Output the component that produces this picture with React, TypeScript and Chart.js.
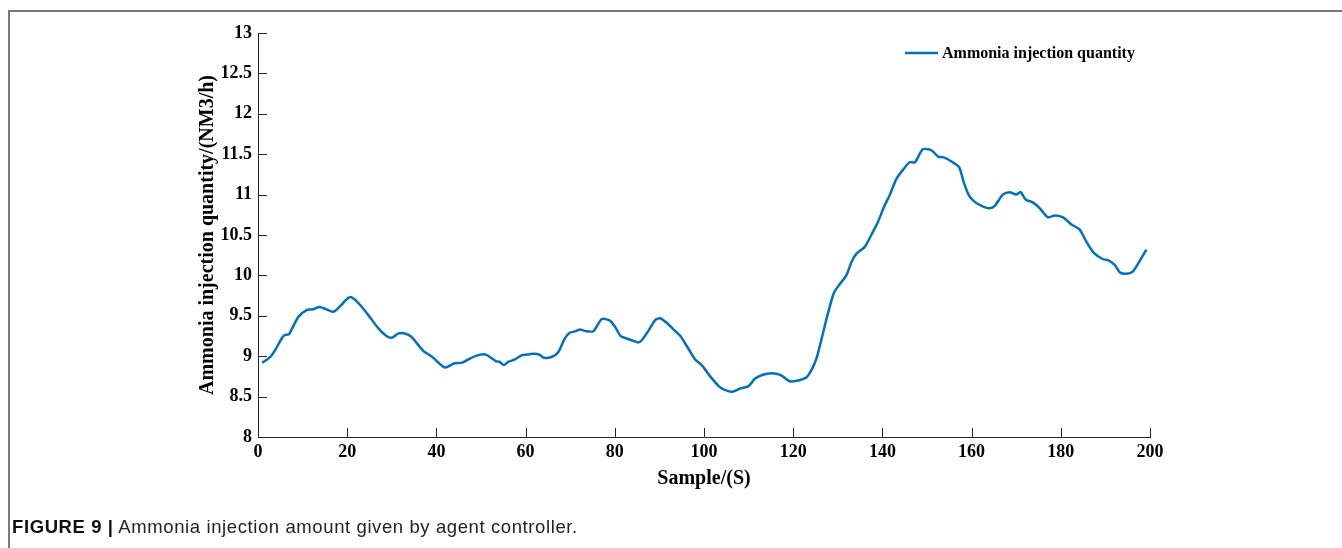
import { useEffect, useRef } from "react";
import { Chart, registerables } from "chart.js";

Chart.register(...registerables);

const seriesLabel = "Ammonia injection quantity";
const xTitle = "Sample/(S)";
const yTitle = "Ammonia injection quantity/(NM3/h)";
const captionBold = "FIGURE 9 |";
const captionText = " Ammonia injection amount given by agent controller.";

const samples = [
  0.9, 1.8, 2.9, 4.0, 5.2, 5.9, 6.9, 7.8, 9.1, 10.9, 12.3, 13.8, 15.3, 16.9, 18.6, 20.0, 20.9, 22.8, 25.0, 26.9,
  28.8, 30.1, 31.4, 32.9, 34.4, 37.0, 39.1, 41.9, 43.9, 45.8, 47.5, 49.2, 51.1, 53.3, 54.2, 55.1, 56.1, 57.6, 59.1, 60.2,
  61.7, 63.1, 64.1, 65.8, 67.3, 68.8, 69.9, 71.3, 72.2, 73.5, 75.2, 77.1, 78.9, 80.1, 81.3, 83.1, 84.2, 85.2, 86.1, 87.6,
  89.1, 90.2, 91.7, 93.2, 94.7, 96.2, 98.0, 99.5, 101.4, 103.3, 104.4, 106.3, 108.1, 110.0, 111.4, 113.2, 115.1, 117.1, 119.2, 121.1,
  123.0, 124.1, 125.2, 126.3, 127.6, 129.1, 130.4, 131.9, 133.1, 134.2, 136.0, 137.5, 139.0, 140.3, 141.6, 143.2, 144.8, 146.1, 147.3, 149.0,
  150.3, 151.2, 152.5, 153.7, 155.5, 157.2, 158.2, 159.4, 160.7, 162.6, 164.0, 165.2, 167.0, 168.5, 170.0, 171.0, 172.1, 173.8, 175.3, 177.1,
  178.6, 180.4, 182.4, 184.2, 185.7, 187.4, 189.5, 190.6, 192.1, 193.2, 194.7, 196.2, 197.6, 199.2,
];

const ammoniaQuantity = [
  8.92, 8.95, 9.0, 9.09, 9.21, 9.26, 9.27, 9.36, 9.49, 9.57, 9.58, 9.61, 9.58, 9.55, 9.63, 9.71, 9.73, 9.64, 9.49, 9.35,
  9.25, 9.23, 9.28, 9.28, 9.24, 9.07, 8.99, 8.86, 8.91, 8.92, 8.97, 9.01, 9.02, 8.94, 8.93, 8.89, 8.93, 8.96, 9.01, 9.02,
  9.03, 9.02, 8.98, 8.99, 9.05, 9.22, 9.29, 9.31, 9.33, 9.31, 9.31, 9.46, 9.44, 9.36, 9.25, 9.21, 9.19, 9.17, 9.2, 9.32,
  9.45, 9.47, 9.41, 9.33, 9.25, 9.12, 8.96, 8.89, 8.75, 8.63, 8.59, 8.56, 8.6, 8.63, 8.72, 8.77, 8.79, 8.77, 8.69, 8.7,
  8.74, 8.83, 8.97, 9.2, 9.49, 9.78, 9.89, 10.0, 10.17, 10.27, 10.35, 10.5, 10.66, 10.84, 10.99, 11.2, 11.32, 11.4, 11.4, 11.56,
  11.56, 11.54, 11.47, 11.46, 11.41, 11.34, 11.16, 10.99, 10.91, 10.85, 10.83, 10.86, 11.0, 11.03, 11.0, 11.03, 10.94, 10.9, 10.83, 10.72,
  10.74, 10.72, 10.63, 10.57, 10.42, 10.28, 10.2, 10.19, 10.13, 10.04, 10.02, 10.05, 10.17, 10.32,
];

const xMin = 0;
const xMax = 200;
const xStep = 20;
const yMin = 8;
const yMax = 13;
const yStep = 0.5;

const LINE_COLOR = "#0072BD";
const AXIS_COLOR = "#262626";
const SERIF = "'Liberation Serif', 'Times New Roman', serif";

const inwardTicks = {
  id: "inwardTicks",
  afterDatasetsDraw(chart: any) {
    const { ctx, chartArea, scales } = chart;
    const len = 9;
    ctx.save();
    ctx.strokeStyle = AXIS_COLOR;
    ctx.lineWidth = 1;
    ctx.beginPath();
    scales.y.ticks.forEach((t: any) => {
      const y = Math.round(scales.y.getPixelForValue(t.value)) + 0.5;
      ctx.moveTo(chartArea.left, y);
      ctx.lineTo(chartArea.left + len, y);
    });
    scales.x.ticks.forEach((t: any) => {
      const x = Math.round(scales.x.getPixelForValue(t.value)) + 0.5;
      ctx.moveTo(x, chartArea.bottom);
      ctx.lineTo(x, chartArea.bottom - len);
    });
    ctx.stroke();
    ctx.restore();
  },
};

const lineLegend = {
  id: "lineLegend",
  afterDraw(chart: any) {
    const { ctx } = chart;
    const ds = chart.data.datasets[0];
    const y = 53;
    ctx.save();
    ctx.strokeStyle = ds.borderColor;
    ctx.lineWidth = 2.5;
    ctx.beginPath();
    ctx.moveTo(905, y);
    ctx.lineTo(938, y);
    ctx.stroke();
    ctx.fillStyle = "#000";
    ctx.font = `bold 16px ${SERIF}`;
    ctx.textBaseline = "middle";
    ctx.textAlign = "left";
    ctx.fillText(ds.label, 942, y + 1);
    ctx.restore();
  },
};

export default function App() {
  const canvasRef = useRef<HTMLCanvasElement | null>(null);

  useEffect(() => {
    if (!canvasRef.current) return;
    const points = samples.map((s, i) => ({ x: s, y: ammoniaQuantity[i] }));
    const chart = new Chart(canvasRef.current, {
      type: "line",
      data: {
        datasets: [
          {
            label: seriesLabel,
            data: points,
            borderColor: LINE_COLOR,
            backgroundColor: LINE_COLOR,
            borderWidth: 2.5,
            pointRadius: 0,
            tension: 0.25,
            fill: false,
          },
        ],
      },
      options: {
        animation: false,
        responsive: false,
        maintainAspectRatio: false,
        layout: { padding: { left: 190, top: 33, right: 192, bottom: 50 } },
        plugins: {
          legend: { display: false },
          tooltip: { enabled: false },
        },
        scales: {
          x: {
            type: "linear",
            min: xMin,
            max: xMax,
            grid: { display: false, drawTicks: false },
            border: { display: true, color: AXIS_COLOR, width: 1 },
            ticks: {
              stepSize: xStep,
              padding: 5,
              color: "#000",
              maxRotation: 0,
              font: { family: SERIF, size: 18, weight: "bold" },
              callback: (v: any) => String(v),
            },
            title: {
              display: true,
              text: xTitle,
              color: "#000",
              font: { family: SERIF, size: 20, weight: "bold" },
              padding: { top: 0, bottom: 7 },
            },
            afterFit: (scale: any) => {
              scale.height = 61;
            },
          },
          y: {
            type: "linear",
            min: yMin,
            max: yMax,
            grid: { display: false, drawTicks: false },
            border: { display: true, color: AXIS_COLOR, width: 1 },
            ticks: {
              stepSize: yStep,
              padding: 6,
              color: "#000",
              font: { family: SERIF, size: 18, weight: "bold" },
              callback: (v: any) => String(Math.round(Number(v) * 10) / 10),
            },
            title: {
              display: true,
              text: yTitle,
              color: "#000",
              font: { family: SERIF, size: 20, weight: "bold" },
              padding: { top: 6, bottom: 0 },
            },
            afterFit: (scale: any) => {
              scale.width = 68;
            },
          },
        },
      },
      plugins: [inwardTicks, lineLegend],
    });
    return () => chart.destroy();
  }, []);

  return (
    <div style={{ position: "fixed", left: 0, top: 0, width: 1342, height: 548, background: "#fff", overflow: "hidden" }}>
      <div
        style={{
          position: "absolute",
          left: 8,
          top: 10,
          right: 0,
          bottom: 0,
          borderTop: "2px solid #7a7a7a",
          borderLeft: "2px solid #7a7a7a",
        }}
      />
      <canvas ref={canvasRef} width={1342} height={548} style={{ position: "absolute", left: 0, top: 0, width: 1342, height: 548 }} />
      <div
        style={{
          position: "absolute",
          left: 12,
          top: 516,
          fontFamily: "'Liberation Sans', Arial, sans-serif",
          fontSize: 18.5,
          letterSpacing: 0.6,
          color: "#222",
          whiteSpace: "nowrap",
        }}
      >
        <span style={{ fontWeight: "bold", color: "#111" }}>{captionBold}</span>
        <span>{captionText}</span>
      </div>
    </div>
  );
}
